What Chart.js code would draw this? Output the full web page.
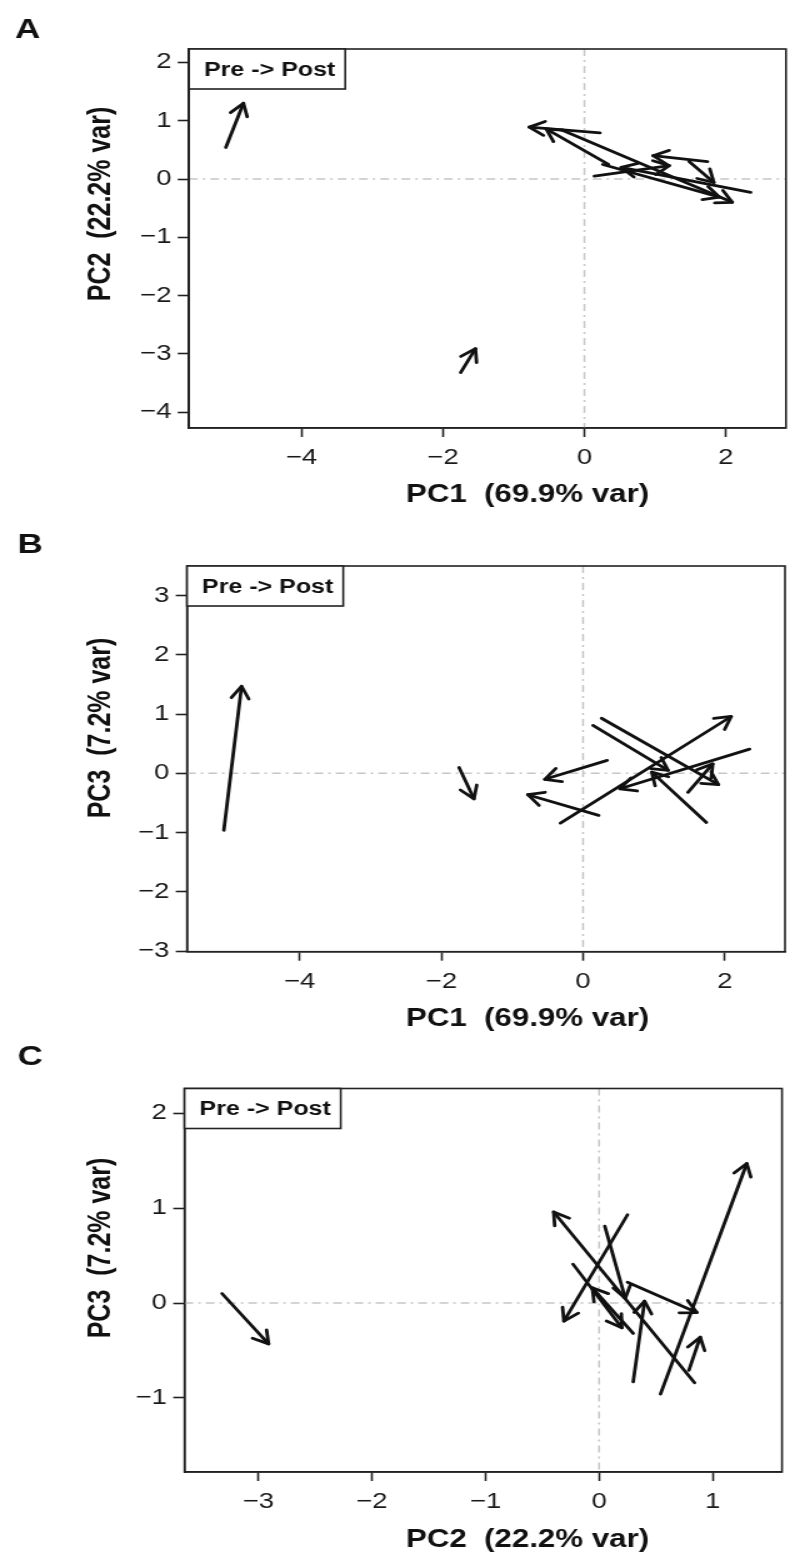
<!DOCTYPE html>
<html>
<head>
<meta charset="utf-8">
<title>PCA pre -> post</title>
<script src="https://cdn.jsdelivr.net/npm/chart.js@4.4.1/dist/chart.umd.min.js"></script>
<style>
  body { margin: 0; background: #fff; }
  canvas { display: block; }
</style>
</head>
<body>
<!-- canvases are drawn 640 wide and shown 800 wide, the figure is stretched sideways -->
<canvas id="panel-a" width="640" height="520" style="width:800px;height:520px"></canvas>
<canvas id="panel-b" width="640" height="520" style="width:800px;height:520px"></canvas>
<canvas id="panel-c" width="640" height="524" style="width:800px;height:524px"></canvas>
<script>
// PC scores per subject, pre and post (arrow goes pre -> post)
const pc1Pre  = [-5.07, -1.75, -0.32, 0.26, 0.14, 0.34, 0.22, 1.74, 1.48, 2.35];
const pc1Post = [-4.82, -1.54, 2.09, 1.91, 1.20, -0.54, -0.78, 0.97, 1.83, 0.52];
const pc2Pre  = [0.54, -3.32, 0.84, 0.25, 0.05, 0.25, 0.79, 0.30, 0.30, -0.23];
const pc2Post = [1.30, -2.91, -0.40, -0.31, 0.23, 0.86, 0.89, 0.40, -0.06, 0.20];
const pc3Pre  = [-0.96, 0.10, -0.84, 0.93, 0.81, 0.22, -0.71, -0.83, -0.32, 0.41];
const pc3Post = [1.47, -0.43, 0.96, -0.19, 0.05, -0.10, -0.36, 0.02, 0.16, -0.26];

// axis limits and tick labels
const pc1Lim = [-5.59, 2.85];
const pc2LimA = [-4.27, 2.23];
const pc3LimB = [-3.01, 3.50];
const pc2LimC = [-3.65, 1.61];
const pc3LimC = [-1.78, 2.26];
const pc1Ticks = [-4, -2, 0, 2];
const pc2TicksA = [-4, -3, -2, -1, 0, 1, 2];
const pc3TicksB = [-3, -2, -1, 0, 1, 2, 3];
const pc2TicksC = [-3, -2, -1, 0, 1];
const pc3TicksC = [-1, 0, 1, 2];

const pc1Title = 'PC1  (69.9% var)';
const pc2Title = 'PC2  (22.2% var)';
const pc3Title = 'PC3  (7.2% var)';
const legendText = 'Pre -> Post';

const FONT = '"Liberation Sans", Arial, Helvetica, sans-serif';
const INK = '#111';

// zero lines, arrow heads, frame, legend box, titles
const pcaDecor = {
  id: 'pcaDecor',
  beforeDatasetsDraw(chart) {
    const {ctx, chartArea: a, scales: {x, y}} = chart;
    const x0 = x.getPixelForValue(0), y0 = y.getPixelForValue(0);
    ctx.save();
    ctx.strokeStyle = '#c6c6c6';
    ctx.lineWidth = 1.5;
    ctx.setLineDash([7, 4, 2, 4]);
    ctx.beginPath();
    ctx.moveTo(x0, a.top); ctx.lineTo(x0, a.bottom);
    ctx.moveTo(a.left, y0); ctx.lineTo(a.right, y0);
    ctx.stroke();
    ctx.restore();
  },
  afterDatasetsDraw(chart) {
    const ctx = chart.ctx;
    const len = 14, spread = Math.PI / 6;
    ctx.save();
    ctx.strokeStyle = INK;
    ctx.lineWidth = 2.8;
    ctx.lineCap = 'round';
    ctx.lineJoin = 'round';
    chart.data.datasets.forEach((ds, i) => {
      const [p0, p1] = chart.getDatasetMeta(i).data;
      const ang = Math.atan2(p1.y - p0.y, p1.x - p0.x);
      ctx.beginPath();
      ctx.moveTo(p1.x - len * Math.cos(ang - spread), p1.y - len * Math.sin(ang - spread));
      ctx.lineTo(p1.x, p1.y);
      ctx.lineTo(p1.x - len * Math.cos(ang + spread), p1.y - len * Math.sin(ang + spread));
      ctx.stroke();
    });
    ctx.restore();
  },
  afterDraw(chart, args, o) {
    const {ctx, chartArea: a} = chart;
    ctx.save();
    ctx.strokeStyle = '#222';
    ctx.lineWidth = 1.6;
    ctx.strokeRect(a.left, a.top, a.right - a.left, a.bottom - a.top);
    // legend
    ctx.fillStyle = '#fff';
    ctx.fillRect(a.left, a.top, 125, 40);
    ctx.strokeRect(a.left, a.top, 125, 40);
    ctx.fillStyle = INK;
    ctx.font = 'bold 20px ' + FONT;
    ctx.textBaseline = 'middle';
    ctx.fillText(legendText, a.left + 12, a.top + 21);
    // panel letter
    ctx.font = 'bold 28px ' + FONT;
    ctx.textBaseline = 'alphabetic';
    ctx.fillText(o.letter, o.letterX, o.letterY);
    // axis titles
    ctx.font = 'bold 25px ' + FONT;
    ctx.textAlign = 'center';
    ctx.textBaseline = 'middle';
    ctx.fillText(o.xTitle, o.xTitleX, o.xTitleY);
    ctx.translate(o.yTitleX, o.yTitleY);
    ctx.rotate(-Math.PI / 2);
    ctx.fillText(o.yTitle, 0, 0);
    ctx.restore();
  }
};

function arrowSets(xPre, xPost, yPre, yPost) {
  return xPre.map((v, i) => ({
    data: [{x: xPre[i], y: yPre[i]}, {x: xPost[i], y: yPost[i]}],
    showLine: true,
    borderColor: INK,
    borderWidth: 2.8,
    borderCapStyle: 'round',
    pointRadius: 0
  }));
}

function axis(lim, ticks, size, pad) {
  return {
    type: 'linear',
    min: lim[0],
    max: lim[1],
    afterBuildTicks: s => { s.ticks = ticks.map(v => ({value: v})); },
    afterFit: s => { if (s.isHorizontal()) s.height = size; else s.width = size; },
    grid: {drawOnChartArea: false, drawTicks: true, tickLength: 9, tickWidth: 1.6, tickColor: '#222', color: '#222'},
    border: {display: true, color: '#222', width: 1.6},
    ticks: {
      color: '#1a1a1a',
      font: {family: FONT, size: 22},
      padding: pad,
      autoSkip: false,
      maxRotation: 0,
      callback: v => v < 0 ? '\u2212' + Math.abs(v) : String(v)
    }
  };
}

function panel(id, xs, ys, xLim, xTicks, yLim, yTicks, lay, decor) {
  new Chart(document.getElementById(id), {
    type: 'scatter',
    data: {datasets: arrowSets(xs[0], xs[1], ys[0], ys[1])},
    options: {
      responsive: false,
      animation: false,
      devicePixelRatio: 1,
      layout: {padding: {left: 0, top: lay.top, right: lay.right, bottom: 0}},
      plugins: {legend: {display: false}, tooltip: {enabled: false}, pcaDecor: decor},
      scales: {
        x: axis(xLim, xTicks, lay.xH, 8),
        y: axis(yLim, yTicks, lay.yW, 5)
      }
    },
    plugins: [pcaDecor]
  });
}

// A: PC1 vs PC2
panel('panel-a', [pc1Pre, pc1Post], [pc2Pre, pc2Post], pc1Lim, pc1Ticks, pc2LimA, pc2TicksA,
  {top: 49, right: 11.2, xH: 92, yW: 151.2},
  {letter: 'A', letterX: 12, letterY: 38, xTitle: pc1Title, xTitleX: 422, xTitleY: 495,
   yTitle: pc2Title, yTitleX: 81, yTitleY: 204});

// B: PC1 vs PC3
panel('panel-b', [pc1Pre, pc1Post], [pc3Pre, pc3Post], pc1Lim, pc1Ticks, pc3LimB, pc3TicksB,
  {top: 46, right: 12, xH: 88.3, yW: 149.6},
  {letter: 'B', letterX: 14, letterY: 33, xTitle: pc1Title, xTitleX: 422, xTitleY: 499,
   yTitle: pc3Title, yTitleX: 81, yTitleY: 208});

// C: PC2 vs PC3
panel('panel-c', [pc2Pre, pc2Post], [pc3Pre, pc3Post], pc2LimC, pc2TicksC, pc3LimC, pc3TicksC,
  {top: 48.5, right: 14.4, xH: 92, yW: 147.6},
  {letter: 'C', letterX: 14, letterY: 25, xTitle: pc2Title, xTitleX: 422, xTitleY: 500,
   yTitle: pc3Title, yTitleX: 81, yTitleY: 208});
</script>
</body>
</html>
